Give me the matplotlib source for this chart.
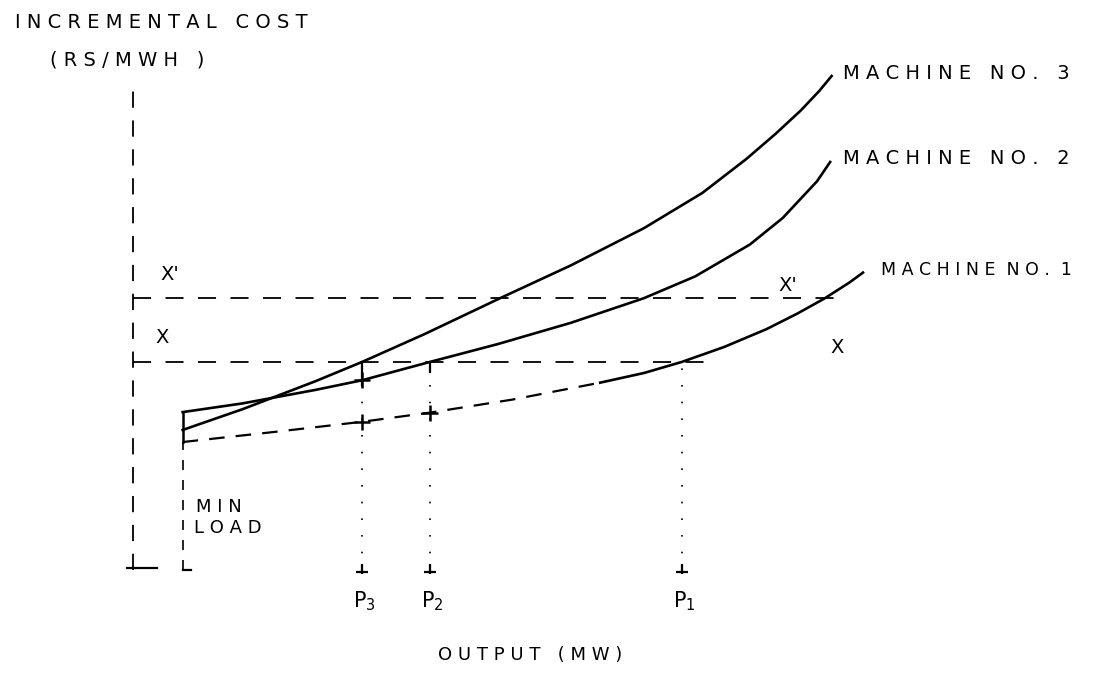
# -*- coding: utf-8 -*-
import numpy as np
import matplotlib
matplotlib.use("Agg")
import matplotlib.pyplot as plt

plt.rcParams['font.family'] = ['DejaVu Sans']

# 曲线数据 (输出 MW, 增量成本)
m3_mw = [6.8, 15.0, 25.0, 31.4, 40.0, 50.3, 60.0, 70.0, 78.0, 84.0, 88.0, 91.5, 94.0, 95.7]
m3_cost = [29.0, 33.3, 39.1, 43.1, 48.9, 56.3, 63.1, 70.8, 78.1, 85.1, 90.3, 95.2, 99.2, 102.3]

m2_mw = [6.8, 15.0, 25.0, 31.4, 40.7, 50.0, 60.0, 70.0, 77.0, 84.5, 89.0, 93.7, 95.5]
m2_cost = [32.7, 34.5, 37.3, 39.3, 43.1, 46.8, 51.2, 56.3, 60.8, 67.4, 72.9, 80.5, 84.5]

m1_mw = [6.8, 20.0, 31.4, 40.7, 52.0, 64.0, 70.0, 75.2, 81.0, 86.8, 91.0, 94.8, 98.2, 100.0]
m1_cost = [26.5, 28.7, 30.7, 32.6, 35.3, 38.8, 40.8, 43.1, 46.2, 49.9, 53.1, 56.3, 59.6, 61.6]

min_load = 6.8
x_level = 43.1      # X
xp_level = 56.3     # X'
p_vals = [31.4, 40.7, 75.2]          # P3, P2, P1
p_labels = [r'$\mathrm{P}_3$', r'$\mathrm{P}_2$', r'$\mathrm{P}_1$']
plus_mw = [31.4, 31.4, 40.7]
plus_cost = [39.3, 30.7, 32.6]

fig = plt.figure(figsize=(10.96, 6.85), dpi=100)
ax = fig.add_axes([133 / 1096, 115 / 685, 730 / 1096, 507 / 685])
ax.set_xlim(0, 100)
ax.set_ylim(0, 105)
ax.axis('off')

k = dict(color='black', clip_on=False)

# 坐标轴 (虚线)
ax.plot([0, 0], [0, 100.5], lw=1.3, ls=(0, (9, 7)), **k)
ax.plot([-0.8, 3.3], [0.4, 0.4], lw=1.6, **k)
ax.plot([min_load, min_load], [0, m1_cost[0]], lw=1.2, ls=(0, (6, 6)), **k)
ax.plot([min_load, min_load], [m1_cost[0], m2_cost[0]], lw=1.8, **k)
ax.plot([min_load, min_load + 1.2], [0, 0], lw=1.6, **k)

# 曲线
ax.plot(m3_mw, m3_cost, lw=1.9, **k)
ax.plot(m2_mw, m2_cost, lw=1.9, **k)
m1 = np.array(m1_mw)
c1 = np.array(m1_cost)
cut = 5
ax.plot(m1[:cut + 1], c1[:cut + 1], lw=1.6, ls=(0, (7, 5)), **k)
ax.plot(m1[cut:], c1[cut:], lw=1.9, **k)

# X, X' 水平线
ax.plot([0, 96.4], [xp_level, xp_level], lw=1.3, ls=(0, (10, 8)), **k)
ax.plot([0, 78.8], [x_level, x_level], lw=1.3, ls=(0, (10, 8)), **k)

# 垂直线
ax.plot([p_vals[0], p_vals[0]], [x_level, plus_cost[0] - 1], lw=1.6, **k)
ax.plot([p_vals[1], p_vals[1]], [x_level, x_level - 2], lw=1.6, **k)
for p in p_vals:
    ax.plot([p, p], [0, x_level], lw=1.2, ls=(0, (1, 9)), **k)
    ax.plot([p], [0.3], marker='|', ms=7, mew=1.6, **k)
    ax.plot([p], [-0.5], marker='_', ms=8, mew=1.6, **k)
ax.plot(plus_mw, plus_cost, ls='none', marker='+', ms=11, mew=1.8, **k)


def spaced(s, gap='   '):
    return gap.join(' '.join(w) for w in s.split(' '))


# 文字
fs = 14
ax.text(97.3, 102.9, spaced('MACHINE NO. 3'), fontsize=fs, va='center', ha='left', **k)
ax.text(97.3, 85.3, spaced('MACHINE NO. 2'), fontsize=fs, va='center', ha='left', **k)
ax.text(102.4, 62.1, spaced('MACHINE NO. 1', '  '), fontsize=12.5, va='center', ha='left', **k)

ax.text(5.1, 61.1, "X'", fontsize=fs, va='center', ha='center', **k)
ax.text(4.0, 48.2, "X", fontsize=fs, va='center', ha='center', **k)
ax.text(89.7, 59.0, "X'", fontsize=fs, va='center', ha='center', **k)
ax.text(96.4, 46.0, "X", fontsize=fs, va='center', ha='center', **k)

ax.text(8.6, 13.0, spaced('MIN'), fontsize=13, va='center', ha='left', **k)
ax.text(8.4, 8.7, spaced('LOAD'), fontsize=13, va='center', ha='left', **k)

for p, lab in zip(p_vals, p_labels):
    ax.text(p + 0.3, -6.4, lab, fontsize=15, va='center', ha='center', **k)

ax.text(54.4, -17.6, spaced('OUTPUT (MW)'), fontsize=13, va='center', ha='center', **k)

fig.text(15 / 1096, 1 - 23 / 685, spaced('INCREMENTAL COST'), fontsize=14, va='center', ha='left')
fig.text(50 / 1096, 1 - 60 / 685, spaced('(RS/MWH )'), fontsize=14, va='center', ha='left')

fig.savefig('out.png', dpi=100)
